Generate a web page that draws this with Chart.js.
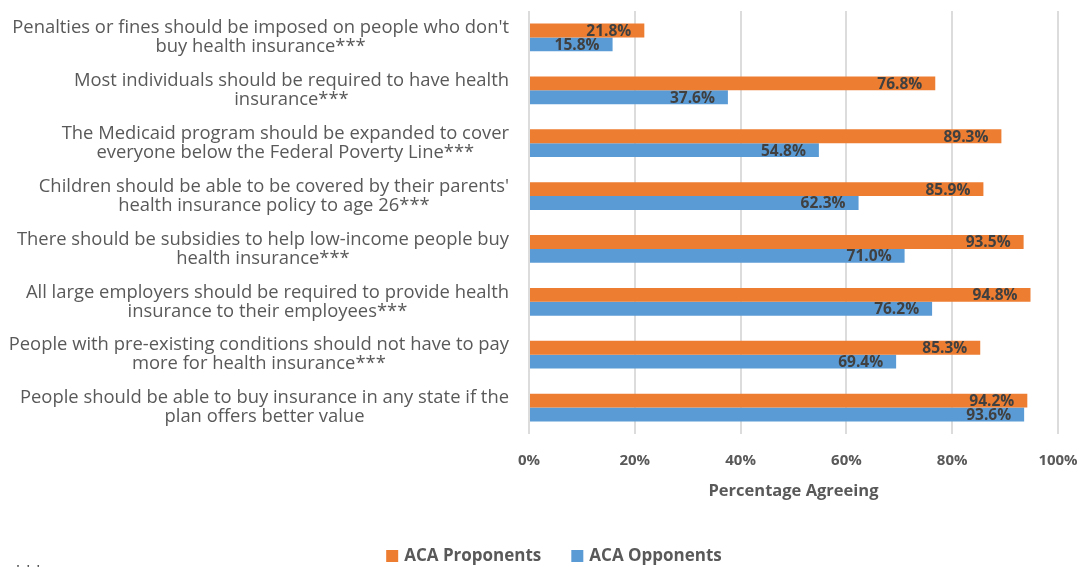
<!DOCTYPE html>
<html>
<head>
<meta charset="utf-8">
<title>ACA Provisions</title>
<script src="https://cdn.jsdelivr.net/npm/chart.js@4/dist/chart.umd.min.js"></script>
<style>
  html, body { margin: 0; padding: 0; background: #fff; }
  #wrap { width: 1084px; height: 567px; position: relative; }
</style>
</head>
<body>
<div id="wrap"><canvas id="acaChart"></canvas></div>
<script>
// Survey statements (each entry is one label, split over two lines)
const statements = [
  ["Penalties or fines should be imposed on people who don't", "buy health insurance***"],
  ["Most individuals should be required to have health", "insurance***"],
  ["The Medicaid program should be expanded to cover", "everyone below the Federal Poverty Line***"],
  ["Children should be able to be covered by their parents'", "health insurance policy to age 26***"],
  ["There should be subsidies to help low-income people buy", "health insurance***"],
  ["All large employers should be required to provide health", "insurance to their employees***"],
  ["People with pre-existing conditions should not have to pay", "more for health insurance***"],
  ["People should be able to buy insurance in any state if the", "plan offers better value"]
];

// Percent agreeing in each group
const proponents = [21.8, 76.8, 89.3, 85.9, 93.5, 94.8, 85.3, 94.2];
const opponents = [15.8, 37.6, 54.8, 62.3, 71.0, 76.2, 69.4, 93.6];

// Axis ticks
const xTicks = [0, 20, 40, 60, 80, 100];

const textGrey = '#595959';
const labelGrey = '#404040';
const fontFamily = "'Open Sans', sans-serif";

// Draws the two-line statement labels: lines centred on each other,
// widest line right-aligned against the plot
const statementLabels = {
  id: 'statementLabels',
  afterDraw(chart) {
    const ctx = chart.ctx;
    const yScale = chart.scales.y;
    const rightEdge = chart.chartArea.left - 20;
    const lineGap = 19;
    ctx.save();
    ctx.font = '18.4px ' + fontFamily;
    ctx.fillStyle = textGrey;
    ctx.textAlign = 'center';
    ctx.textBaseline = 'middle';
    statements.forEach((lines, i) => {
      const y = yScale.getPixelForValue(i);
      const maxW = Math.max(...lines.map(l => ctx.measureText(l).width));
      const cx = rightEdge - maxW / 2;
      const startY = y - (lines.length - 1) * lineGap / 2;
      lines.forEach((line, j) => ctx.fillText(line, cx, startY + j * lineGap));
    });
    // footnote marker at bottom left
    ctx.textAlign = 'left';
    ctx.textBaseline = 'top';
    ctx.fillText('***', 13, 565);
    ctx.restore();
  }
};

// Value labels at the inside end of each bar
const valueLabels = {
  id: 'valueLabels',
  afterDatasetsDraw(chart) {
    const ctx = chart.ctx;
    ctx.save();
    ctx.font = 'bold 15.5px ' + fontFamily;
    ctx.fillStyle = labelGrey;
    ctx.textAlign = 'right';
    ctx.textBaseline = 'middle';
    chart.data.datasets.forEach((ds, di) => {
      chart.getDatasetMeta(di).data.forEach((bar, i) => {
        ctx.fillText(ds.data[i].toFixed(1) + '%', bar.x - 13, bar.y + 1);
      });
    });
    ctx.restore();
  }
};

// Legend row under the axis title: square swatch + bold series name
const bottomLegend = {
  id: 'bottomLegend',
  afterDraw(chart) {
    const ctx = chart.ctx;
    const box = 12, boxGap = 6, itemGap = 30;
    const centerX = 554, centerY = 556;
    ctx.save();
    ctx.font = 'bold 17px ' + fontFamily;
    ctx.textBaseline = 'middle';
    ctx.textAlign = 'left';
    const items = chart.data.datasets.map(ds => ({
      text: ds.label,
      color: ds.backgroundColor,
      w: ctx.measureText(ds.label).width
    }));
    const total = items.reduce((s, it) => s + box + boxGap + it.w, 0) + itemGap * (items.length - 1);
    let x = centerX - total / 2;
    items.forEach(it => {
      ctx.fillStyle = it.color;
      ctx.fillRect(x, centerY - box / 2, box, box);
      ctx.fillStyle = textGrey;
      ctx.fillText(it.text, x + box + boxGap, centerY);
      x += box + boxGap + it.w + itemGap;
    });
    ctx.restore();
  }
};

const ctx = document.getElementById('acaChart').getContext('2d');
const acaChart = new Chart(ctx, {
  type: 'bar',
  data: {
    labels: statements,
    datasets: [
      {
        label: 'ACA Proponents',
        data: proponents,
        backgroundColor: '#ED7D31',
        barPercentage: 1.0,
        categoryPercentage: 0.525
      },
      {
        label: 'ACA Opponents',
        data: opponents,
        backgroundColor: '#5B9BD5',
        barPercentage: 1.0,
        categoryPercentage: 0.525
      }
    ]
  },
  options: {
    indexAxis: 'y',
    responsive: true,
    maintainAspectRatio: false,
    animation: false,
    layout: {
      padding: { top: 11, left: 48, right: 26, bottom: 40 }
    },
    scales: {
      x: {
        min: 0,
        max: 100,
        afterBuildTicks(scale) {
          scale.ticks = xTicks.map(v => ({ value: v }));
        },
        afterFit(scale) {
          // fixed band for tick labels + title, no extra side padding
          scale.height = 93;
          scale.paddingLeft = 0;
          scale.paddingRight = 0;
        },
        grid: { color: '#dcdcdc', lineWidth: 2, drawTicks: false },
        border: { display: false },
        ticks: {
          padding: 18,
          color: textGrey,
          font: { family: fontFamily, size: 15, weight: 'bold' },
          callback: v => v + '%'
        },
        title: {
          display: true,
          text: 'Percentage Agreeing',
          color: textGrey,
          font: { family: fontFamily, size: 16.5, weight: 'bold' },
          padding: { top: 9, bottom: 26 }
        }
      },
      y: {
        grid: { display: false },
        border: { display: false },
        ticks: { display: false },
        afterFit(scale) {
          scale.width = 481;
        }
      }
    },
    plugins: {
      legend: { display: false },
      tooltip: { enabled: false }
    }
  },
  plugins: [statementLabels, valueLabels, bottomLegend]
});
</script>
</body>
</html>
